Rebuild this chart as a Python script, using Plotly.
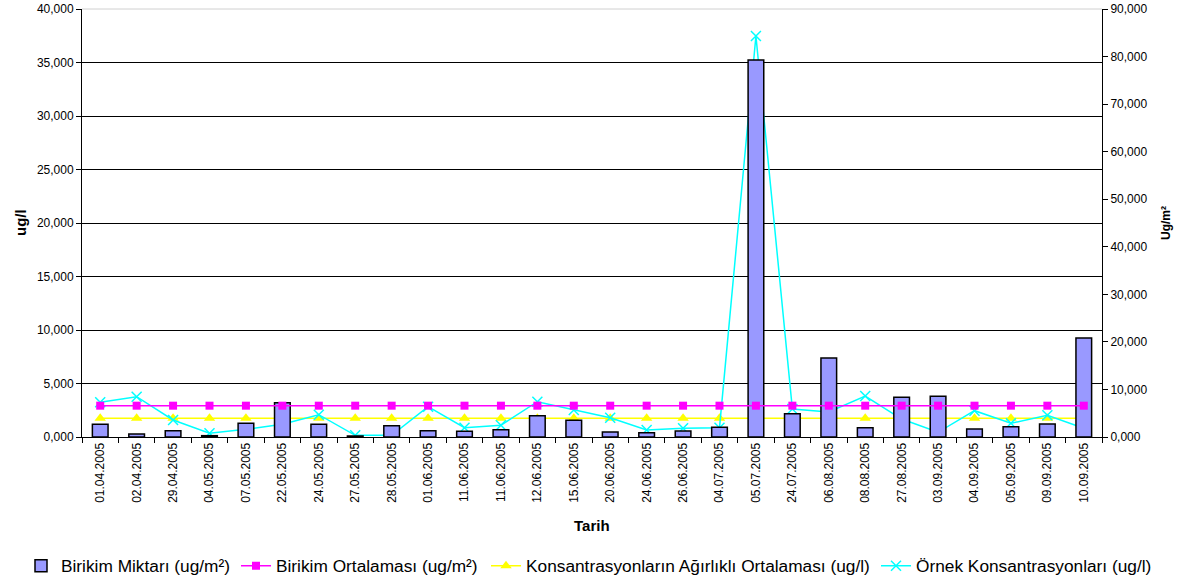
import plotly.graph_objects as go

dates = ["01.04.2005", "02.04.2005", "29.04.2005", "04.05.2005", "07.05.2005", "22.05.2005",
         "24.05.2005", "27.05.2005", "28.05.2005", "01.06.2005", "11.06.2005", "11.06.2005 ",
         "12.06.2005", "15.06.2005", "20.06.2005", "24.06.2005", "26.06.2005", "04.07.2005",
         "05.07.2005", "24.07.2005", "06.08.2005", "08.08.2005", "27.08.2005", "03.09.2005",
         "04.09.2005", "05.09.2005", "09.09.2005", "10.09.2005"]
tick_labels = [d.strip() for d in dates]

birikim_miktari = [2670, 630, 1325, 280, 2880, 7215, 2670, 210, 2380, 1325, 1190, 1540,
                   4480, 3510, 1050, 910, 1260, 2040, 79280, 4900, 16620, 1960, 8340, 8550,
                   1680, 2170, 2735, 20820]
birikim_ortalamasi = [6585] * 28
agirlikli_ortalama = [1745] * 28
ornek_konsantrasyon = [3240, 3770, 1590, 345, 720, 1185, 2085, 160, 160, 2830, 870, 1100,
                       3300, 2520, 1805, 655, 810, 870, 37480, 2617, 2336, 3830, 1680, 440,
                       2460, 1280, 2030, 815]

left_ticks = [0, 5000, 10000, 15000, 20000, 25000, 30000, 35000, 40000]
left_text = ["0,000", "5,000", "10,000", "15,000", "20,000", "25,000", "30,000", "35,000", "40,000"]
right_ticks = [0, 10000, 20000, 30000, 40000, 50000, 60000, 70000, 80000, 90000]
right_text = ["0,000", "10,000", "20,000", "30,000", "40,000", "50,000", "60,000", "70,000", "80,000", "90,000"]

FONT = "Liberation Sans, Arial, sans-serif"
W, H = 1179, 584
ML, MT = 82, 9
MR = W - 1102
MB = H - 437
pw, ph = W - ML - MR, H - MT - MB


def px_x(page_x):
    return (page_x - ML) / pw


def px_y(page_y):
    return (MT + ph - page_y) / ph


fig = go.Figure()
fig.add_trace(go.Bar(x=dates, y=birikim_miktari, name="Birikim Miktarı (ug/m²)", yaxis="y2",
                     legend="legend",
                     marker=dict(color="#9999FF", line=dict(color="#000000", width=1.5))))
fig.add_trace(go.Scatter(x=dates, y=birikim_ortalamasi, name="Birikim Ortalaması (ug/m²)", yaxis="y2",
                         legend="legend2",
                         mode="lines+markers", line=dict(color="#FF00FF", width=1.5),
                         marker=dict(symbol="square", size=8, color="#FF00FF")))
fig.add_trace(go.Scatter(x=dates, y=agirlikli_ortalama, name="Konsantrasyonların Ağırlıklı Ortalaması (ug/l)",
                         legend="legend3",
                         mode="lines+markers", line=dict(color="#FFFF00", width=1.5),
                         marker=dict(symbol="triangle-up", size=10, color="#FFFF00")))
fig.add_trace(go.Scatter(x=dates, y=ornek_konsantrasyon, name="Örnek Konsantrasyonları (ug/l)",
                         legend="legend4",
                         mode="lines+markers", line=dict(color="#00FFFF", width=1.5),
                         marker=dict(symbol="x-thin", size=10, line=dict(color="#00FFFF", width=1.5))))


def legend_at(page_x):
    return dict(orientation="h", x=px_x(page_x), y=px_y(566), xanchor="left", yanchor="middle",
                font=dict(size=17.3, family=FONT, color="black"), itemwidth=30,
                bgcolor="rgba(0,0,0,0)")


fig.update_layout(
    width=W, height=H,
    margin=dict(l=ML, r=MR, t=MT, b=MB, autoexpand=False),
    paper_bgcolor="white", plot_bgcolor="white",
    font=dict(family=FONT, size=12, color="black"),
    bargap=0.57,
    showlegend=True,
    legend=legend_at(21),
    legend2=legend_at(236),
    legend3=legend_at(486),
    legend4=legend_at(876),
    xaxis=dict(type="category", range=[-0.5, 27.5], tickvals=dates, ticktext=tick_labels, tickangle=-90,
               showline=True, linecolor="black", linewidth=1, ticks="outside", ticklen=5,
               tickson="boundaries", tickcolor="black", showgrid=False, mirror=False,
               tickfont=dict(size=12), automargin=False),
    yaxis=dict(range=[0, 40000], tickvals=left_ticks, ticktext=left_text, showline=True,
               linecolor="black", ticks="outside", ticklen=5, tickcolor="black",
               showgrid=True, gridcolor="black", gridwidth=1, zeroline=False, tickfont=dict(size=12),
               automargin=False, ticklabeloverflow="allow"),
    yaxis2=dict(range=[0, 90000], tickvals=right_ticks, ticktext=right_text, overlaying="y", side="right",
                showline=True, linecolor="black", ticks="outside", ticklen=5, tickcolor="black",
                showgrid=False, zeroline=False, tickfont=dict(size=12), automargin=False,
                ticklabeloverflow="allow"),
    annotations=[
        dict(text="<b>ug/l</b>", x=px_x(20), y=0.5, xref="paper", yref="paper", textangle=-90,
             showarrow=False, font=dict(size=15), xanchor="center", yanchor="middle"),
        dict(text="<b>Tarih</b>", x=px_x(592), y=px_y(525), xref="paper",
             yref="paper", showarrow=False, font=dict(size=15), xanchor="center", yanchor="middle"),
        dict(text="<b>Ug/m²</b>", x=px_x(1166), y=0.5, xref="paper", yref="paper", textangle=-90,
             showarrow=False, font=dict(size=12), xanchor="center", yanchor="middle"),
    ],
    shapes=[dict(type="line", xref="paper", yref="paper", x0=0, x1=1, y0=1, y1=1,
                 line=dict(color="#D0D0D0", width=1))],
)

fig.write_html("out.html", config={"displayModeBar": False},
               post_script="document.body.style.margin='0';")
